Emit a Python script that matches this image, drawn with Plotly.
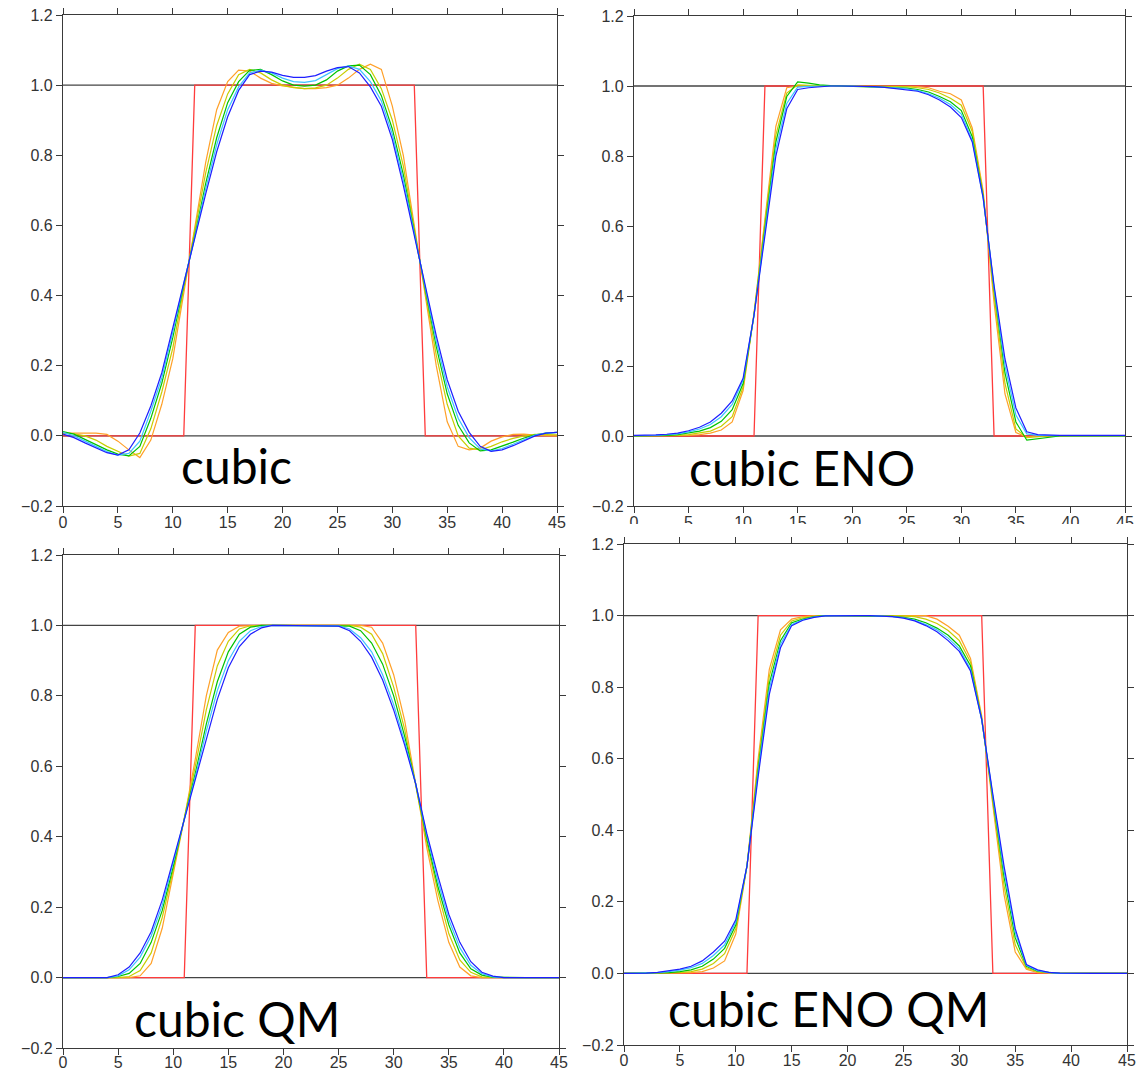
import plotly.graph_objects as go

# ---------------- data ----------------
x = list(range(46))

exact = [0]*12 + [1]*21 + [0]*13

series_names = ["orange", "yellow", "green", "cyan", "blue"]
series_colors = ["rgb(255,160,40)", "rgb(200,205,0)", "rgb(0,195,0)", "rgb(60,195,255)", "rgb(30,30,255)"]

# Panel 1: cubic
cubic_orange = [0.008, 0.008, 0.008, 0.008, 0.004, -0.015, -0.04, -0.062, -0.012, 0.09, 0.22, 0.407, 0.593, 0.78, 0.93, 1.01,
                1.043, 1.04, 1.02, 1.005, 0.998, 0.993, 0.99, 0.99, 0.993, 1.0, 1.02, 1.045, 1.06, 1.045, 0.94, 0.8,
                0.6, 0.4, 0.2, 0.04, -0.03, -0.04, -0.035, -0.015, -0.003, 0.004, 0.005, 0.002, 0.0, 0.0]
cubic_yellow = [0.008, 0.006, 0.0, -0.012, -0.03, -0.045, -0.058, -0.05, 0.02, 0.125, 0.25, 0.42, 0.58, 0.75, 0.885, 0.975,
                1.03, 1.045, 1.035, 1.015, 1.0, 0.993, 0.99, 0.992, 1.0, 1.02, 1.045, 1.06, 1.045, 0.99, 0.9, 0.77,
                0.59, 0.41, 0.23, 0.09, 0.0, -0.035, -0.04, -0.03, -0.017, -0.007, 0.0, 0.004, 0.004, 0.003]
cubic_green = [0.012, 0.005, -0.01, -0.025, -0.04, -0.052, -0.057, -0.03, 0.05, 0.15, 0.28, 0.43, 0.57, 0.72, 0.85, 0.95,
               1.01, 1.042, 1.045, 1.03, 1.012, 1.0, 0.997, 1.0, 1.015, 1.04, 1.055, 1.057, 1.03, 0.97, 0.875, 0.745,
               0.585, 0.42, 0.255, 0.12, 0.03, -0.02, -0.043, -0.04, -0.03, -0.018, -0.006, 0.003, 0.008, 0.01]
cubic_cyan = [0.01, 0.0, -0.015, -0.03, -0.045, -0.055, -0.05, -0.015, 0.07, 0.165, 0.295, 0.435, 0.565, 0.705, 0.83, 0.93,
              0.995, 1.035, 1.043, 1.035, 1.02, 1.01, 1.008, 1.013, 1.03, 1.047, 1.055, 1.045, 1.01, 0.955, 0.86, 0.73,
              0.577, 0.425, 0.27, 0.14, 0.05, -0.005, -0.037, -0.043, -0.036, -0.024, -0.01, 0.002, 0.008, 0.01]
cubic_blue = [0.005, -0.005, -0.02, -0.035, -0.048, -0.055, -0.04, 0.008, 0.085, 0.18, 0.31, 0.437, 0.563, 0.69, 0.81, 0.91,
              0.985, 1.03, 1.04, 1.037, 1.028, 1.022, 1.022, 1.027, 1.04, 1.05, 1.053, 1.035, 0.995, 0.94, 0.845, 0.714,
              0.57, 0.43, 0.286, 0.16, 0.07, 0.01, -0.03, -0.044, -0.04, -0.028, -0.013, 0.0, 0.008, 0.01]

# Panel 2: cubic ENO
eno_orange = [0.0, 0.0, 0.0, 0.0, 0.0, 0.002, 0.004, 0.008, 0.017, 0.04, 0.13, 0.35, 0.62, 0.885, 0.995, 1.0,
              1.0, 1.0, 1.0, 1.0, 1.0, 1.0, 1.0, 1.0, 1.0, 1.0, 0.998, 0.995, 0.985, 0.978, 0.96, 0.88,
              0.7, 0.38, 0.12, 0.01, -0.003, 0.0, 0.0, 0.0, 0.0, 0.0, 0.0, 0.0, 0.0, 0.0]
eno_yellow = [0.0, 0.0, 0.0, 0.001, 0.002, 0.004, 0.008, 0.014, 0.028, 0.055, 0.14, 0.35, 0.61, 0.86, 0.98, 1.003,
              1.002, 1.0, 1.0, 1.0, 1.0, 1.0, 1.0, 1.0, 0.999, 0.998, 0.995, 0.99, 0.98, 0.965, 0.945, 0.87,
              0.69, 0.4, 0.15, 0.02, -0.005, -0.002, 0.0, 0.0, 0.0, 0.0, 0.0, 0.0, 0.0, 0.0]
eno_green = [0.0, 0.0, 0.001, 0.002, 0.004, 0.008, 0.014, 0.024, 0.042, 0.075, 0.15, 0.345, 0.6, 0.84, 0.97, 1.012,
             1.008, 1.003, 1.001, 1.0, 1.0, 0.999, 0.999, 0.998, 0.997, 0.994, 0.99, 0.983, 0.97, 0.955, 0.93, 0.855,
             0.685, 0.42, 0.18, 0.04, -0.012, -0.008, -0.003, 0.0, 0.0, 0.0, 0.0, 0.0, 0.0, 0.0]
eno_cyan = [0.001, 0.001, 0.002, 0.004, 0.006, 0.012, 0.02, 0.033, 0.055, 0.09, 0.16, 0.345, 0.59, 0.82, 0.95, 0.997,
            0.999, 1.0, 1.0, 1.0, 1.0, 0.999, 0.998, 0.997, 0.995, 0.992, 0.987, 0.978, 0.965, 0.947, 0.92, 0.845,
            0.68, 0.425, 0.2, 0.06, 0.006, 0.002, 0.001, 0.001, 0.001, 0.001, 0.001, 0.001, 0.001, 0.001]
eno_blue = [0.002, 0.002, 0.003, 0.005, 0.008, 0.015, 0.025, 0.04, 0.065, 0.1, 0.165, 0.345, 0.58, 0.8, 0.935, 0.99,
            0.995, 0.998, 1.0, 1.0, 1.0, 0.999, 0.998, 0.996, 0.993, 0.99, 0.985, 0.975, 0.96, 0.94, 0.91, 0.84,
            0.68, 0.43, 0.22, 0.08, 0.012, 0.004, 0.002, 0.002, 0.002, 0.002, 0.002, 0.002, 0.002, 0.002]

# Panel 3: cubic QM
qm_orange = [0.0, 0.0, 0.0, 0.0, 0.0, 0.0, 0.0, 0.005, 0.04, 0.14, 0.29, 0.45, 0.62, 0.8, 0.93, 0.98,
             0.998, 1.0, 1.0, 1.0, 1.0, 1.0, 1.0, 1.0, 1.0, 1.0, 1.0, 1.0, 0.995, 0.95, 0.86, 0.73,
             0.55, 0.37, 0.22, 0.1, 0.03, 0.005, 0.0, 0.0, 0.0, 0.0, 0.0, 0.0, 0.0, 0.0]
qm_yellow = [0.0, 0.0, 0.0, 0.0, 0.0, 0.0, 0.003, 0.02, 0.07, 0.17, 0.305, 0.45, 0.6, 0.76, 0.885, 0.955,
             0.99, 0.999, 1.0, 1.0, 1.0, 1.0, 1.0, 1.0, 1.0, 1.0, 1.0, 0.995, 0.975, 0.92, 0.825, 0.705,
             0.55, 0.385, 0.245, 0.125, 0.05, 0.015, 0.002, 0.0, 0.0, 0.0, 0.0, 0.0, 0.0, 0.0]
qm_green = [0.0, 0.0, 0.0, 0.0, 0.0, 0.003, 0.012, 0.04, 0.1, 0.19, 0.315, 0.45, 0.58, 0.72, 0.84, 0.925,
            0.975, 0.995, 1.0, 1.0, 1.0, 1.0, 1.0, 1.0, 1.0, 1.0, 0.998, 0.985, 0.95, 0.89, 0.8, 0.685,
            0.55, 0.395, 0.26, 0.15, 0.07, 0.025, 0.007, 0.001, 0.0, 0.0, 0.0, 0.0, 0.0, 0.0]
qm_cyan = [0.0, 0.0, 0.0, 0.0, 0.0, 0.005, 0.022, 0.058, 0.118, 0.205, 0.325, 0.45, 0.57, 0.7, 0.815, 0.9,
           0.955, 0.985, 0.997, 1.0, 1.0, 1.0, 1.0, 1.0, 1.0, 0.999, 0.99, 0.965, 0.925, 0.86, 0.775, 0.67,
           0.55, 0.405, 0.275, 0.165, 0.085, 0.035, 0.011, 0.002, 0.0, 0.0, 0.0, 0.0, 0.0, 0.0]
qm_blue = [0.0, 0.0, 0.0, 0.0, 0.0, 0.008, 0.03, 0.07, 0.13, 0.22, 0.335, 0.45, 0.56, 0.68, 0.79, 0.88,
           0.94, 0.975, 0.993, 1.0, 1.0, 1.0, 1.0, 1.0, 1.0, 0.998, 0.985, 0.955, 0.91, 0.845, 0.76, 0.66,
           0.55, 0.41, 0.29, 0.18, 0.1, 0.045, 0.015, 0.004, 0.0, 0.0, 0.0, 0.0, 0.0, 0.0]

# Panel 4: cubic ENO QM
enoqm_orange = [0.0, 0.0, 0.0, 0.0, 0.0, 0.0, 0.002, 0.005, 0.015, 0.035, 0.11, 0.3, 0.6, 0.85, 0.96, 0.99,
                0.997, 1.0, 1.0, 1.0, 1.0, 1.0, 1.0, 1.0, 1.0, 1.0, 1.0, 1.0, 0.99, 0.97, 0.945, 0.88,
                0.72, 0.47, 0.22, 0.06, 0.012, 0.002, 0.0, 0.0, 0.0, 0.0, 0.0, 0.0, 0.0, 0.0]
enoqm_yellow = [0.0, 0.0, 0.0, 0.0, 0.0, 0.002, 0.005, 0.012, 0.028, 0.055, 0.125, 0.3, 0.585, 0.83, 0.945, 0.985,
                0.994, 0.998, 1.0, 1.0, 1.0, 1.0, 1.0, 1.0, 1.0, 0.999, 0.997, 0.99, 0.978, 0.958, 0.93, 0.87,
                0.715, 0.48, 0.245, 0.08, 0.016, 0.004, 0.001, 0.0, 0.0, 0.0, 0.0, 0.0, 0.0, 0.0]
enoqm_green = [0.0, 0.0, 0.0, 0.0, 0.002, 0.005, 0.01, 0.02, 0.04, 0.07, 0.135, 0.3, 0.57, 0.81, 0.93, 0.98,
               0.99, 0.997, 1.0, 1.0, 1.0, 1.0, 1.0, 0.999, 0.998, 0.995, 0.99, 0.98, 0.965, 0.945, 0.915, 0.86,
               0.71, 0.49, 0.27, 0.1, 0.02, 0.006, 0.002, 0.0, 0.0, 0.0, 0.0, 0.0, 0.0, 0.0]
enoqm_cyan = [0.0, 0.0, 0.0, 0.002, 0.005, 0.009, 0.016, 0.028, 0.05, 0.08, 0.143, 0.3, 0.56, 0.795, 0.92, 0.975,
              0.988, 0.996, 0.999, 1.0, 1.0, 1.0, 1.0, 0.999, 0.997, 0.994, 0.987, 0.975, 0.96, 0.937, 0.907, 0.85,
              0.71, 0.495, 0.285, 0.115, 0.023, 0.008, 0.002, 0.0, 0.0, 0.0, 0.0, 0.0, 0.0, 0.0]
enoqm_blue = [0.0, 0.0, 0.001, 0.003, 0.007, 0.012, 0.02, 0.035, 0.06, 0.09, 0.15, 0.3, 0.55, 0.78, 0.91, 0.972,
              0.987, 0.995, 0.999, 1.0, 1.0, 1.0, 1.0, 0.999, 0.997, 0.993, 0.985, 0.972, 0.955, 0.93, 0.9, 0.845,
              0.71, 0.5, 0.3, 0.125, 0.025, 0.01, 0.003, 0.001, 0.0, 0.0, 0.0, 0.0, 0.0, 0.0]

panel_titles = ["cubic", "cubic ENO", "cubic QM", "cubic ENO QM"]
panel_series = [
    [cubic_orange, cubic_yellow, cubic_green, cubic_cyan, cubic_blue],
    [eno_orange, eno_yellow, eno_green, eno_cyan, eno_blue],
    [qm_orange, qm_yellow, qm_green, qm_cyan, qm_blue],
    [enoqm_orange, enoqm_yellow, enoqm_green, enoqm_cyan, enoqm_blue],
]

x_ticks = [0, 5, 10, 15, 20, 25, 30, 35, 40, 45]
y_ticks = [-0.2, 0.0, 0.2, 0.4, 0.6, 0.8, 1.0, 1.2]
y_ticktext = ["\u22120.2", "0.0", "0.2", "0.4", "0.6", "0.8", "1.0", "1.2"]

# ---------------- layout geometry (pixels) ----------------
W, H = 1142, 1074
# (left, right, top, bottom) of each plot area in pixels
boxes = [(63, 557, 15, 506), (634, 1125, 16, 506), (63, 559, 555, 1048), (624, 1127, 544, 1045)]
label_pos = [(236, 465), (802, 467), (237, 1018), (828, 1008)]
x_standoff = [-4, -4, -6, -5]

fig = go.Figure()
axis_font = dict(family="Liberation Sans, Arial, sans-serif", size=16, color="#333333")
line_col = "#3a3a3a"

for i in range(4):
    n = i + 1
    xa = "x" if n == 1 else f"x{n}"
    ya = "y" if n == 1 else f"y{n}"
    l, r, t, b = boxes[i]
    # exact solution
    fig.add_trace(go.Scatter(x=x, y=exact, mode="lines", line=dict(color="rgb(255,60,60)", width=1.3),
                             xaxis=xa, yaxis=ya, showlegend=False, hoverinfo="skip"))
    for s, name, col in zip(panel_series[i], series_names, series_colors):
        fig.add_trace(go.Scatter(x=x, y=s, mode="lines", name=name, line=dict(color=col, width=1.2),
                                 xaxis=xa, yaxis=ya, showlegend=False))
    common = dict(showline=True, mirror="ticks", ticks="outside", ticklen=6, tickwidth=1.2,
                  tickcolor=line_col, linecolor=line_col, linewidth=1.3, showgrid=False,
                  zeroline=False, tickfont=axis_font, automargin=False)
    fig.update_layout(**{
        ("xaxis" if n == 1 else f"xaxis{n}"): dict(domain=[l / W, r / W], range=[0, 45],
                                                   tickvals=x_ticks, anchor=ya,
                                                   ticklabelstandoff=x_standoff[i], **common),
        ("yaxis" if n == 1 else f"yaxis{n}"): dict(domain=[1 - b / H, 1 - t / H], range=[-0.2, 1.2],
                                                   tickvals=y_ticks, ticktext=y_ticktext, anchor=xa, **common),
    })
    for yv in (0.0, 1.0):
        fig.add_shape(type="line", xref=xa, yref=ya, x0=0, x1=45, y0=yv, y1=yv,
                      line=dict(color="#444444", width=1.3), layer="below")
    px, py = label_pos[i]
    fig.add_annotation(x=px / W, y=1 - py / H, xref="paper", yref="paper", text=panel_titles[i],
                       showarrow=False, font=dict(family="Lato, Carlito, Calibri, sans-serif", size=48, color="black"),
                       xanchor="center", yanchor="middle")

# the lower-right panel covers the lower half of the upper-right tick labels
fig.add_shape(type="rect", xref="paper", yref="paper", x0=590 / W, x1=1.0, y0=1 - 537 / H, y1=1 - 524 / H,
              fillcolor="white", line=dict(width=0), layer="above")

fig.update_layout(width=W, height=H, margin=dict(l=0, r=0, t=0, b=0),
                  paper_bgcolor="white", plot_bgcolor="white")

fig.write_html("out.html", config={"displayModeBar": False},
               post_script="document.body.style.margin='0px';")
